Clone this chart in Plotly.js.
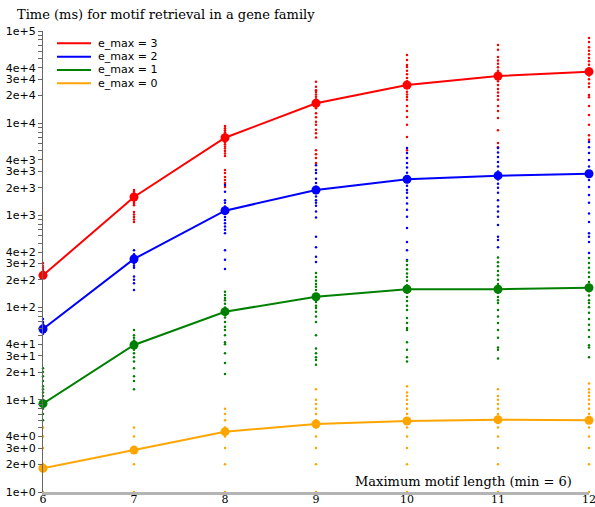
<!DOCTYPE html>
<html>
<head>
<meta charset="utf-8">
<script src="https://cdn.plot.ly/plotly-3.0.1.min.js"></script>
<style>html,body{margin:0;padding:0;background:#fff;}#chart{width:595px;height:507px;}</style>
</head>
<body>
<div id="chart"></div>
<script>
// ---- data ----
const xVals = [6, 7, 8, 9, 10, 11, 12];
const seriesNames = ['e_max = 3', 'e_max = 2', 'e_max = 1', 'e_max = 0'];
const seriesColors = ['#ff0000', '#0000ff', '#008000', '#ffa500'];

// central (summary) time per maximum motif length, ms
const emax3 = [224, 1585, 6960, 16440, 25950, 32500, 36200];
const emax2 = [58.6, 337, 1125, 1885, 2460, 2700, 2833];
const emax1 = [9.08, 39.3, 90.3, 131, 158, 158, 164];
const emax0 = [1.81, 2.85, 4.51, 5.46, 5.89, 6.09, 5.99];

// individual runs per maximum motif length (one list per x value), ms
const emax3Runs = [
  [305, 285, 270, 255, 242, 232, 224, 216],
  [1880, 1800, 1720, 1650, 1580, 1520, 1460, 1400, 1340, 1290, 1090, 1020, 960, 900, 850],
  [9300, 8800, 8400, 8000, 7700, 7400, 7100, 6800, 6500, 6200, 5900, 5600, 5300, 5000, 4700, 4400, 3100, 2880, 2610, 2420, 2250, 2030],
  [28200, 24900, 22800, 21800, 20500, 19300, 18200, 17200, 16300, 15400, 14500, 12800, 11600, 10400, 9600, 8500, 7800, 7000, 5100, 4600, 4200, 3700],
  [54900, 48400, 42700, 40600, 37000, 34000, 31000, 28500, 26000, 24000, 22000, 20500, 19200, 18000, 15400, 13600, 11700, 9600, 7100, 5100, 4200],
  [70500, 62700, 52200, 48000, 44000, 40500, 37000, 34000, 31000, 28500, 26000, 23500, 21500, 19700, 18000, 15400, 13600, 11400, 8400, 6100, 5500],
  [84000, 76000, 66500, 61000, 56000, 51000, 47000, 43000, 39500, 36000, 33000, 30000, 27000, 24700, 20200, 19100, 15400, 12300, 9600, 7400, 6600]
];
const emax2Runs = [
  [75, 70, 66, 62, 58, 55, 52],
  [420, 380, 360, 345, 330, 315, 300, 285, 270, 217, 200, 184, 155],
  [2130, 1800, 1460, 1370, 1250, 1180, 1100, 1040, 960, 890, 820, 760, 700, 640, 420, 330, 262],
  [3500, 3100, 2880, 2500, 2250, 2050, 1900, 1750, 1600, 1460, 1370, 1270, 1100, 950, 585, 450, 355, 312],
  [5380, 4750, 4200, 3700, 3300, 2900, 2600, 2450, 2300, 2100, 1880, 1760, 1550, 1350, 1150, 965, 730, 515, 420, 328],
  [5380, 4800, 4300, 3800, 3400, 3000, 2700, 2450, 2200, 2000, 1760, 1460, 1250, 1100, 965, 785, 585, 540, 450],
  [6250, 5500, 4740, 4000, 3400, 2840, 2420, 2030, 1660, 1370, 1050, 848, 640, 585, 515, 391]
];
const emax1Runs = [
  [22, 20, 18, 16, 14, 13, 12, 11, 10, 9, 8, 7, 6],
  [57, 50, 47, 44, 41, 38, 35, 32, 29, 26, 22, 18, 16, 13],
  [149, 137, 127, 120, 110, 100, 92, 85, 78, 70, 62, 57, 50, 42, 40, 32, 25, 19],
  [237, 215, 195, 180, 168, 155, 140, 128, 115, 105, 99, 90, 80, 70, 50, 36, 32, 29, 27, 24],
  [320, 290, 260, 235, 215, 195, 175, 158, 145, 130, 118, 105, 94, 77, 68, 60, 57, 42, 35, 29, 26],
  [350, 310, 280, 250, 225, 200, 180, 160, 145, 130, 120, 112, 94, 80, 68, 57, 47, 37, 35, 28],
  [345, 305, 270, 240, 215, 190, 170, 150, 135, 120, 112, 101, 88, 75, 65, 57, 48, 39, 37, 29]
];
const emax0Runs = [
  [1, 2, 3, 4, 5],
  [1, 2, 3, 4, 5],
  [1, 2, 3, 4, 5, 6, 7, 8],
  [1, 2, 3, 4, 5, 6, 7, 8, 9, 10, 13],
  [1, 2, 3, 4, 5, 6, 7, 8, 9, 10, 11, 12, 14],
  [1, 2, 3, 4, 5, 6, 7, 8, 9, 10, 11, 13],
  [1, 2, 3, 4, 5, 6, 7, 8, 9, 10, 11, 12, 13, 15]
];

const yDecades = [0, 1, 2, 3, 4];
const yMultipliers = [1, 2, 3, 4, 5, 6, 7, 8, 9];
const yLabelledMultipliers = [1, 2, 3, 4];

const titleText = 'Time (ms) for motif retrieval in a gene family';
const xTitleText = 'Maximum motif length (min = 6)';

// ---- build ----
const summaries = [emax3, emax2, emax1, emax0];
const runs = [emax3Runs, emax2Runs, emax1Runs, emax0Runs];

const traces = [];
// individual runs (small dots)
runs.forEach((r, i) => {
  const xs = [], ys = [];
  r.forEach((list, j) => list.forEach(v => { xs.push(xVals[j]); ys.push(v); }));
  traces.push({
    x: xs, y: ys, type: 'scatter', mode: 'markers', cliponaxis: false,
    marker: {color: seriesColors[i], size: 2.5, line: {width: 0}},
    showlegend: false, hoverinfo: 'skip'
  });
});
// summary lines with markers
summaries.forEach((s, i) => {
  traces.push({
    x: xVals, y: s, type: 'scatter', mode: 'lines+markers', cliponaxis: false,
    name: seriesNames[i],
    line: {color: seriesColors[i], width: 2},
    marker: {color: seriesColors[i], size: 9},
    showlegend: false, hoverinfo: 'skip'
  });
});

const tickvals = [], ticktext = [];
yDecades.forEach(k => yMultipliers.forEach(m => {
  tickvals.push(m * Math.pow(10, k));
  ticktext.push(yLabelledMultipliers.includes(m) ? (m + 'e+' + k) : '');
}));
tickvals.push(1e5); ticktext.push('1e+5');

// manual compact legend
const shapes = [], annotations = [];
const legX0 = 0.0256, legX1 = 0.0879, legTx = 0.0965, legY0 = 0.9733, legDy = 0.0289;
seriesNames.forEach((n, i) => {
  const yy = legY0 - i * legDy;
  shapes.push({type: 'line', xref: 'paper', yref: 'paper', x0: legX0, x1: legX1, y0: yy, y1: yy,
    line: {color: seriesColors[i], width: 2}});
  annotations.push({xref: 'paper', yref: 'paper', x: legTx, y: yy, xanchor: 'left', yanchor: 'middle',
    text: n, showarrow: false, font: {family: 'DejaVu Sans', size: 11, color: '#000'}});
});
annotations.push({xref: 'paper', yref: 'paper', x: 0.973, y: 0.022, xanchor: 'right', yanchor: 'middle',
  text: xTitleText, showarrow: false, font: {family: 'DejaVu Serif', size: 13, color: '#000'}});

const layout = {
  width: 595, height: 507,
  margin: {l: 43, r: 6, t: 31, b: 15},
  paper_bgcolor: '#fff', plot_bgcolor: '#fff',
  title: {text: titleText, x: 17 / 595, xanchor: 'left', xref: 'container',
    y: 1 - 10 / 507, yanchor: 'top', yref: 'container',
    font: {family: 'DejaVu Serif', size: 13, color: '#000'}},
  xaxis: {range: [6, 12], tickmode: 'array', tickvals: xVals, ticktext: xVals.map(String),
    showgrid: false, zeroline: false, showline: true, linecolor: '#b4b4b4', linewidth: 3,
    ticks: '', ticklabelstandoff: -5, ticklabeloverflow: 'allow',
    tickfont: {family: 'DejaVu Serif', size: 11, color: '#000'}},
  yaxis: {type: 'log', range: [0, 5], tickmode: 'array', tickvals: tickvals, ticktext: ticktext,
    showgrid: false, zeroline: false, showline: true, linecolor: '#666', linewidth: 1,
    ticks: 'outside', ticklen: 4, tickcolor: '#666', tickwidth: 1,
    tickfont: {family: 'DejaVu Sans', size: 11, color: '#000'}},
  shapes: shapes, annotations: annotations,
  showlegend: false, hovermode: false
};

Plotly.newPlot('chart', traces, layout, {displayModeBar: false, staticPlot: true});
</script>
</body>
</html>
